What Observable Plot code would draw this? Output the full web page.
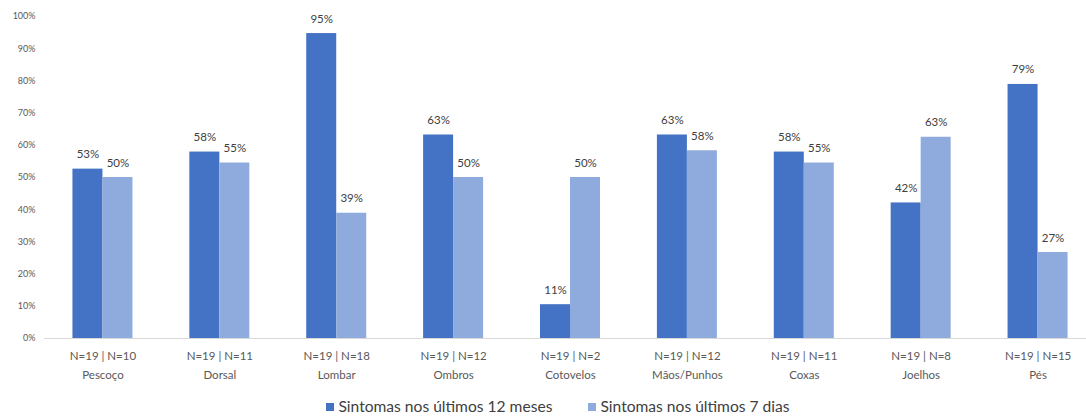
<!DOCTYPE html>
<html>
<head>
<meta charset="utf-8">
<script src="https://cdn.jsdelivr.net/npm/d3@7"></script>
<script src="https://cdn.jsdelivr.net/npm/@observablehq/plot@0.6"></script>
<style>
  body { margin: 0; background: #fff; font-family: Lato, "Open Sans", sans-serif; overflow: hidden; }
  #legend { display: flex; justify-content: center; gap: 36px; font-size: 15.6px; color: #404040; margin-top: 9px; padding-left: 30px; }
  #legend span.sw { display: inline-block; width: 8px; height: 8px; margin-right: 4px; vertical-align: 1px; }
</style>
</head>
<body>
<div id="chart"></div>
<div id="legend"></div>
<script>
const regions = ["Pescoço", "Dorsal", "Lombar", "Ombros", "Cotovelos", "Mãos/Punhos", "Coxas", "Joelhos", "Pés"];
const nLabels = ["N=19 | N=10", "N=19 | N=11", "N=19 | N=18", "N=19 | N=12", "N=19 | N=2", "N=19 | N=12", "N=19 | N=11", "N=19 | N=8", "N=19 | N=15"];
const series = ["Sintomas nos últimos 12 meses", "Sintomas nos últimos 7 dias"];
const values12m = [52.6, 57.9, 94.7, 63.2, 10.5, 63.2, 57.9, 42.1, 78.9];
const values7d = [50.0, 54.5, 38.9, 50.0, 50.0, 58.3, 54.5, 62.5, 26.7];
const colors = ["#4472C4", "#8FAADC"];
const yTicks = [0, 10, 20, 30, 40, 50, 60, 70, 80, 90, 100];

const rows12 = regions.map((r, i) => ({region: r, value: values12m[i]}));
const rows7 = regions.map((r, i) => ({region: r, value: values7d[i]}));
const nByRegion = new Map(regions.map((r, i) => [r, nLabels[i]]));

const step = (1096 - 44) / regions.length;
const half = step / 2;
const bw = 30;

const chart = Plot.plot({
  width: 1086,
  height: 388,
  marginLeft: 44,
  marginRight: 0,
  marginTop: 16,
  marginBottom: 50,
  style: {fontFamily: "Lato, 'Open Sans', sans-serif", background: "#fff", overflow: "visible"},
  x: {domain: regions, range: [44, 1096], padding: 0, round: false, label: null},
  y: {domain: [0, 100], label: null},
  marks: [
    Plot.axisY({ticks: yTicks, tickSize: 0, tickPadding: 9, tickFormat: d => d + "%", fontSize: 9, color: "#595959", label: null}),
    Plot.axisX({anchor: "bottom", tickSize: 0, tickPadding: 0, fontSize: 11.5, color: "#595959", tickFormat: d => nByRegion.get(d), label: null, dy: 13}),
    Plot.axisX({anchor: "bottom", tickSize: 0, tickPadding: 0, fontSize: 11.5, color: "#595959", label: null, dy: 32}),
    Plot.barY(rows12, {x: "region", y: "value", fill: colors[0], insetLeft: half - bw, insetRight: half}),
    Plot.barY(rows7, {x: "region", y: "value", fill: colors[1], insetLeft: half, insetRight: half - bw}),
    Plot.ruleY([0], {stroke: "#d9d9d9", strokeWidth: 1.2}),
    Plot.text(rows12, {x: "region", y: "value", text: d => Math.round(d.value) + "%", lineAnchor: "bottom", dx: -bw / 2, dy: -11, fontSize: 11.5, fill: "#404040"}),
    Plot.text(rows7, {x: "region", y: "value", text: d => Math.round(d.value) + "%", lineAnchor: "bottom", dx: bw / 2, dy: -11, fontSize: 11.5, fill: "#404040"})
  ]
});
document.getElementById("chart").appendChild(chart);

const legend = document.getElementById("legend");
series.forEach((s, i) => {
  const item = document.createElement("div");
  item.innerHTML = `<span class="sw" style="background:${colors[i]}"></span>${s}`;
  legend.appendChild(item);
});
</script>
</body>
</html>
